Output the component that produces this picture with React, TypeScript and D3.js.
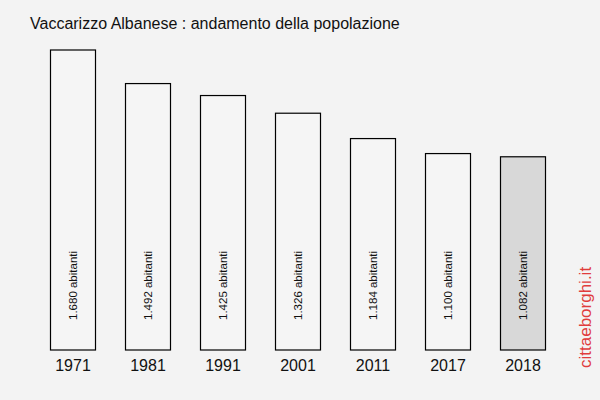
import React from "react";
import * as d3 from "d3";

const years = ["1971", "1981", "1991", "2001", "2011", "2017", "2018"];
const population = [1680, 1492, 1425, 1326, 1184, 1100, 1082];
const valueLabels = ["1.680 abitanti", "1.492 abitanti", "1.425 abitanti", "1.326 abitanti", "1.184 abitanti", "1.100 abitanti", "1.082 abitanti"];
const title = "Vaccarizzo Albanese : andamento della popolazione";
const watermark = "cittaeborghi.it";

export default function App() {
  const W = 600, H = 400;
  const x = d3.scaleBand<string>().domain(years).range([35.5, 560.5]).paddingInner(0.4).paddingOuter(0.2);
  const y = d3.scaleLinear().domain([0, 1680]).range([350, 50]);
  const font = "'Liberation Sans', Arial, sans-serif";
  return (
    <svg width={W} height={H} style={{ position: "absolute", left: 0, top: 0 }} fontFamily={font}>
      <rect x={0} y={0} width={W} height={H} fill="#f3f3f3" />
      <text x={30} y={29} fontSize={16} fill="#111">{title}</text>
      {years.map((yr, i) => {
        const bx = x(yr)!;
        const bw = x.bandwidth();
        const cx = bx + bw / 2;
        return (
          <g key={yr}>
            <rect x={bx} y={y(population[i])} width={bw} height={350 - y(population[i])}
              fill={i === years.length - 1 ? "#d8d8d8" : "#f5f5f5"} stroke="#000" strokeWidth={1.2} />
            <text transform={`translate(${cx + 4},320) rotate(-90)`} fontSize={11.5} fill="#111">{valueLabels[i]}</text>
            <text x={cx} y={371} fontSize={16} textAnchor="middle" fill="#111">{yr}</text>
          </g>
        );
      })}
      <text transform="translate(591,368) rotate(-90)" fontSize={17} fill="#e03c3c">{watermark}</text>
    </svg>
  );
}
